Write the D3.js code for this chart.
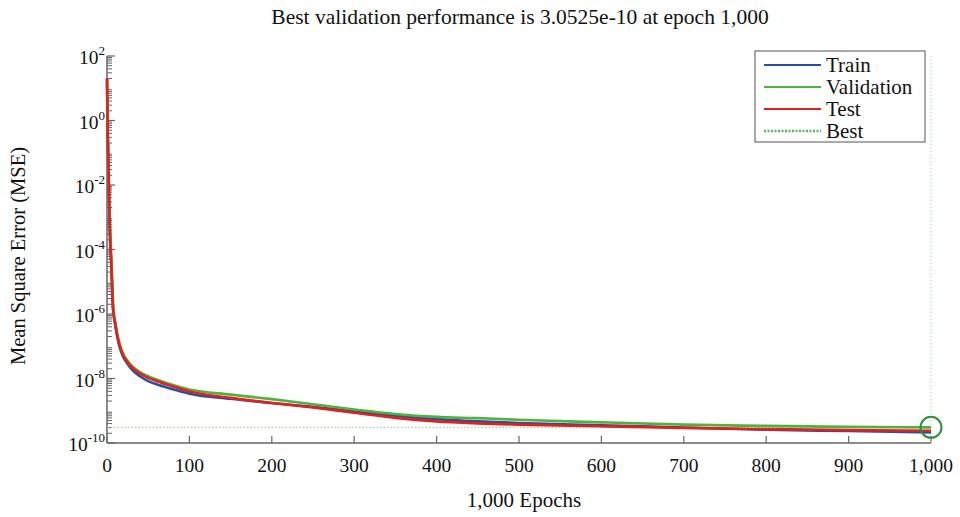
<!DOCTYPE html>
<html>
<head>
<meta charset="utf-8">
<script src="https://cdn.jsdelivr.net/npm/d3@7"></script>
<style>
  html, body { margin: 0; padding: 0; background: #fff; }
  svg { display: block; }
  text { font-family: "Liberation Serif", "Times New Roman", serif; fill: #111; }
</style>
</head>
<body>
<svg id="chart" width="960" height="517"></svg>
<script>
// ---- data (log10 of MSE) ----
const epochs     = [0, 1, 2, 3, 4, 5, 6, 7, 8, 10, 12, 15, 20, 25, 30, 40, 50, 60, 80, 100, 150, 200, 250, 300, 350, 400, 450, 500, 600, 700, 800, 900, 1000];
const trainLog   = [1.3, -0.6, -1.7, -3.0, -3.9, -4.4, -5.0, -5.7, -6.0, -6.35, -6.65, -7.0, -7.35, -7.55, -7.72, -7.93, -8.08, -8.18, -8.33, -8.47, -8.63, -8.76, -8.88, -9.02, -9.15, -9.26, -9.33, -9.38, -9.45, -9.52, -9.59, -9.63, -9.67];
const validLog   = [1.2, -0.5, -1.5, -2.8, -3.5, -4.1, -4.7, -5.4, -5.9, -6.25, -6.55, -6.9, -7.25, -7.45, -7.6, -7.8, -7.93, -8.03, -8.2, -8.34, -8.5, -8.64, -8.8, -8.96, -9.1, -9.19, -9.23, -9.28, -9.36, -9.43, -9.47, -9.5, -9.515];
const testLog    = [1.3, -0.5, -1.6, -3.0, -3.8, -4.3, -5.0, -5.7, -6.0, -6.3, -6.6, -6.95, -7.3, -7.5, -7.65, -7.85, -7.98, -8.08, -8.25, -8.4, -8.6, -8.76, -8.9, -9.06, -9.22, -9.33, -9.39, -9.43, -9.48, -9.53, -9.57, -9.6, -9.62];
const bestEpoch  = 1000;
const bestValue  = 3.0525e-10;
const xTicks     = [0, 100, 200, 300, 400, 500, 600, 700, 800, 900, 1000];
const yTickExps  = [2, 0, -2, -4, -6, -8, -10];
const seriesNames = ["Train", "Validation", "Test", "Best"];
const titleText  = "Best validation performance is 3.0525e-10 at epoch 1,000";
const xLabelText = "1,000 Epochs";
const yLabelText = "Mean Square Error (MSE)";

const colors = { Train: "#2a4ea6", Validation: "#4cb43c", Test: "#e3201c", Best: "#5cb85c" };

const svg = d3.select("#chart");
const pLeft = 107, pRight = 931, pTop = 56, pBottom = 443;

const x = d3.scaleLinear().domain([0, 1000]).range([pLeft, pRight]);
const y = d3.scaleLog().domain([1e-10, 1e2]).range([pBottom, pTop]);

// ---- axes ----
const axisColor = "#666";
const minorVals = [];
for (let d = -10; d < 2; d++) for (let k = 2; k <= 9; k++) minorVals.push(k * Math.pow(10, d));
const gY = svg.append("g");
gY.selectAll("line.minor").data(minorVals).join("line")
  .attr("x1", pLeft).attr("x2", pLeft + 5)
  .attr("y1", d => y(d)).attr("y2", d => y(d))
  .attr("stroke", axisColor).attr("stroke-width", 1);
gY.selectAll("line.major").data(yTickExps).join("line")
  .attr("x1", pLeft).attr("x2", pLeft + 8)
  .attr("y1", d => y(Math.pow(10, d))).attr("y2", d => y(Math.pow(10, d)))
  .attr("stroke", axisColor).attr("stroke-width", 1.2);
gY.append("line").attr("x1", pLeft).attr("x2", pLeft).attr("y1", pTop).attr("y2", pBottom)
  .attr("stroke", axisColor).attr("stroke-width", 1.5);
const yl = gY.selectAll("text.tick").data(yTickExps).join("text")
  .attr("x", 105).attr("y", d => y(Math.pow(10, d)) + 8)
  .attr("text-anchor", "end").style("font-size", "19.5px");
yl.append("tspan").text("10");
yl.append("tspan").attr("dy", -9).style("font-size", "13px").text(d => d);

// x axis
const gX = svg.append("g");
gX.append("line").attr("x1", pLeft).attr("x2", pRight).attr("y1", pBottom).attr("y2", pBottom)
  .attr("stroke", axisColor).attr("stroke-width", 1.5);
gX.selectAll("line.tick").data(xTicks).join("line")
  .attr("x1", d => x(d)).attr("x2", d => x(d))
  .attr("y1", pBottom).attr("y2", pBottom - 7)
  .attr("stroke", axisColor).attr("stroke-width", 1.2);
gX.selectAll("text.tick").data(xTicks).join("text")
  .attr("x", d => x(d)).attr("y", 472)
  .attr("text-anchor", "middle").style("font-size", "19.5px")
  .text(d => d3.format(",")(d));

// ---- best lines ----
svg.append("line").attr("x1", pLeft).attr("x2", x(bestEpoch))
  .attr("y1", y(bestValue)).attr("y2", y(bestValue))
  .attr("stroke", "#8fcf8f").attr("stroke-width", 1).attr("stroke-dasharray", "1.5,2");
svg.append("line").attr("x1", x(bestEpoch)).attr("x2", x(bestEpoch))
  .attr("y1", pTop).attr("y2", pBottom)
  .attr("stroke", "#a8dca8").attr("stroke-width", 1).attr("stroke-dasharray", "1.5,2");

// ---- series ----
const line = d3.line().x(d => x(d[0])).y(d => y(Math.pow(10, d[1]))).curve(d3.curveMonotoneX);
const series = [["Train", trainLog], ["Validation", validLog], ["Test", testLog]];
series.forEach(([name, vals]) => {
  svg.append("path").datum(epochs.map((e, i) => [e, vals[i]]))
    .attr("fill", "none").attr("stroke", colors[name]).attr("stroke-width", 2.6)
    .attr("stroke-linejoin", "round").attr("d", line);
});

// best circle
svg.append("circle").attr("cx", x(bestEpoch)).attr("cy", y(bestValue)).attr("r", 10.5)
  .attr("fill", "none").attr("stroke", "#2e8f36").attr("stroke-width", 2);

// ---- legend ----
const lg = svg.append("g");
lg.append("rect").attr("x", 755).attr("y", 51).attr("width", 170).attr("height", 91)
  .attr("fill", "#fff").attr("stroke", "#555").attr("stroke-width", 1);
seriesNames.forEach((name, i) => {
  const yy = 65 + i * 22;
  lg.append("line").attr("x1", 764).attr("x2", 821).attr("y1", yy).attr("y2", yy)
    .attr("stroke", colors[name]).attr("stroke-width", name === "Best" ? 2.5 : 2)
    .attr("stroke-dasharray", name === "Best" ? "2,1.5" : null);
  lg.append("text").attr("x", 826).attr("y", yy + 7).style("font-size", "21px").text(name);
});

// ---- labels ----
svg.append("text").attr("x", 520).attr("y", 24).attr("text-anchor", "middle")
  .style("font-size", "21.5px").text(titleText);
svg.append("text").attr("x", 524).attr("y", 507).attr("text-anchor", "middle")
  .style("font-size", "21px").text(xLabelText);
svg.append("text").attr("transform", "translate(25,256) rotate(-90)").attr("text-anchor", "middle")
  .style("font-size", "20.5px").text(yLabelText);
</script>
</body>
</html>
